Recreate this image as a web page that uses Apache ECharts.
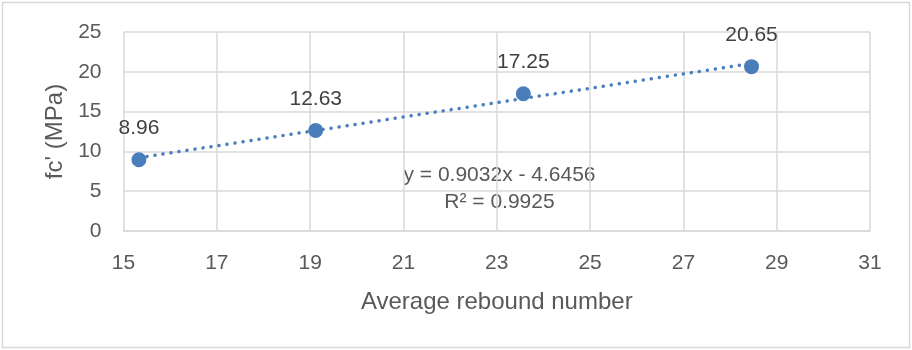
<!DOCTYPE html>
<html>
<head>
<meta charset="utf-8">
<script src="https://cdn.jsdelivr.net/npm/echarts@6/dist/echarts.min.js"></script>
<style>html,body{margin:0;padding:0;background:#fff}#c{width:912px;height:350px}</style>
</head>
<body>
<div id="c"></div>
<script>
const reboundX = [15.33, 19.12, 23.57, 28.46];
const strengthY = [8.96, 12.63, 17.25, 20.65];
const trendX = [15.33, 28.46];
const trendY = [9.20, 21.06];
const equationText = 'y = 0.9032x - 4.6456';
const r2Text = 'R\u00B2 = 0.9925';
const xTitle = 'Average rebound number';
const yTitle = "fc' (MPa)";

const FONT = 'Liberation Sans';
const TXT = '#595959';
const BLUE = '#4a7ebb';
const GRID = '#d9d9d9';

const chart = echarts.init(document.getElementById('c'));
chart.setOption({
  animation: false,
  backgroundColor: '#fff',
  grid: { left: 123.5, right: 42, top: 32, bottom: 119, containLabel: false },
  xAxis: {
    type: 'value', min: 15, max: 31, interval: 2,
    name: xTitle, nameLocation: 'middle', nameGap: 59,
    nameTextStyle: { fontFamily: FONT, fontSize: 24, color: TXT },
    axisLine: { show: true, lineStyle: { color: GRID, width: 1.5 } },
    axisTick: { show: false },
    axisLabel: { fontFamily: FONT, fontSize: 21, color: TXT, margin: 22 },
    splitLine: { show: true, lineStyle: { color: GRID, width: 1.5 } }
  },
  yAxis: {
    type: 'value', min: 0, max: 25, interval: 5,
    name: yTitle, nameLocation: 'middle', nameGap: 56, nameRotate: 90,
    nameTextStyle: { fontFamily: FONT, fontSize: 24, color: TXT },
    axisLine: { show: false },
    axisTick: { show: false },
    axisLabel: { fontFamily: FONT, fontSize: 21, color: TXT, margin: 22 },
    splitLine: { show: true, lineStyle: { color: GRID, width: 1.5 } }
  },
  series: [
    {
      type: 'line',
      data: trendX.map((x, i) => [x, trendY[i]]),
      symbol: 'none',
      lineStyle: { color: BLUE, width: 3.5, type: [0.1, 8], cap: 'round', opacity: 1 },
      z: 2
    },
    {
      type: 'scatter',
      data: reboundX.map((x, i) => [x, strengthY[i]]),
      symbolSize: 15,
      itemStyle: { color: BLUE, opacity: 1 },
      label: {
        show: true, position: 'top', distance: 13,
        fontFamily: FONT, fontSize: 21, color: '#404040',
        formatter: p => p.value[1].toFixed(2)
      },
      z: 3
    }
  ],
  graphic: [
    {
      type: 'rect', shape: { x: 2.5, y: 2.5, width: 907, height: 345 },
      style: { fill: 'none', stroke: GRID, lineWidth: 1.5 }, silent: true
    },
    {
      type: 'text', x: 499.5, y: 175,
      style: { text: equationText, fontFamily: FONT, fontSize: 21, fill: TXT, textAlign: 'center', textVerticalAlign: 'middle' }
    },
    {
      type: 'text', x: 499.5, y: 202.5,
      style: { text: r2Text, fontFamily: FONT, fontSize: 21, fill: TXT, textAlign: 'center', textVerticalAlign: 'middle' }
    }
  ]
});
</script>
</body>
</html>
